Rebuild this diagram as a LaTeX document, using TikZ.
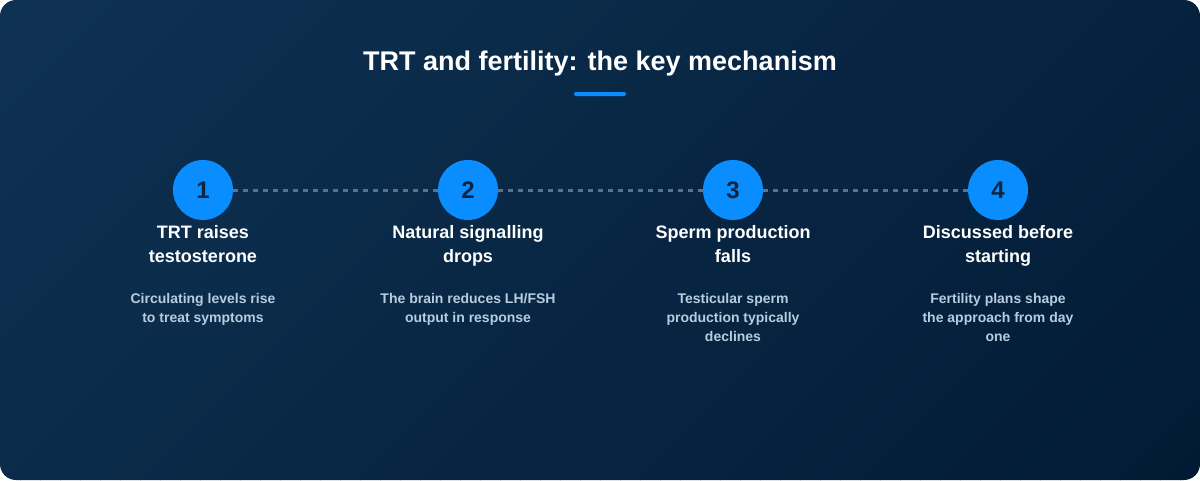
\documentclass[tikz,border=0pt]{standalone}
\usepackage{fontspec}
\setmainfont{Liberation Sans}
\definecolor{bgA}{HTML}{0E3253}
\definecolor{bgB}{HTML}{021B35}
\definecolor{accent}{HTML}{0A8DFF}
\definecolor{numcol}{HTML}{0B2545}
\definecolor{dotcol}{HTML}{56748F}
\definecolor{desccol}{HTML}{B6CCE0}
\tikzset{
  stepcircle/.style={circle, fill=accent, minimum size=60pt, inner sep=0pt, text=numcol, font=\fontsize{24}{28}\selectfont\bfseries},
  headtext/.style={align=center, text=white, font=\fontsize{18}{24}\selectfont\bfseries, anchor=north, inner sep=0pt},
  desctext/.style={align=center, text=desccol, font=\fontsize{14}{19}\selectfont\bfseries, anchor=north, inner sep=0pt},
  dotline/.style={draw=dotcol, line width=3pt, dash pattern=on 5pt off 5pt}
}
\begin{document}
\begin{tikzpicture}[x=1pt,y=-1pt]
\useasboundingbox (0,0) rectangle (1200,480);
\fill[white] (0,0) rectangle (1200,480);
\begin{scope}
\clip[rounded corners=16pt] (0,0) rectangle (1200,480);
\foreach \i in {0,...,83} {
  \pgfmathsetmacro{\p}{\i/83*100}
  \pgfmathsetmacro{\s}{\i*20}
  \fill[bgB!\p!bgA] (\s,0) -- ({\s+21},0) -- ({\s+21-480},480) -- ({\s-480},480) -- cycle;
}
\end{scope}
\node[text=white, font=\fontsize{27}{30}\selectfont\bfseries] (title) at (600,63.5) {TRT and fertility: the key mechanism};
\fill[accent, rounded corners=2pt] (574,92) rectangle (626,96);
\node[stepcircle] (c1) at (203,190) {1};
\node[stepcircle] (c2) at (468,190) {2};
\node[stepcircle] (c3) at (733,190) {3};
\node[stepcircle] (c4) at (998,190) {4};
\draw[dotline] (c1.east) -- (c2.west);
\draw[dotline] (c2.east) -- (c3.west);
\draw[dotline] (c3.east) -- (c4.west);
\node[headtext] (h1) at (203,225.5) {TRT raises\\testosterone};
\node[headtext] (h2) at (468,225.5) {Natural signalling\\drops};
\node[headtext] (h3) at (733,225.5) {Sperm production\\falls};
\node[headtext] (h4) at (998,225.5) {Discussed before\\starting};
\node[desctext] (d1) at (203,293.5) {Circulating levels rise\\to treat symptoms};
\node[desctext] (d2) at (468,293.5) {The brain reduces LH/FSH\\output in response};
\node[desctext] (d3) at (733,293.5) {Testicular sperm\\production typically\\declines};
\node[desctext] (d4) at (998,293.5) {Fertility plans shape\\the approach from day\\one};
\end{tikzpicture}
\end{document}
